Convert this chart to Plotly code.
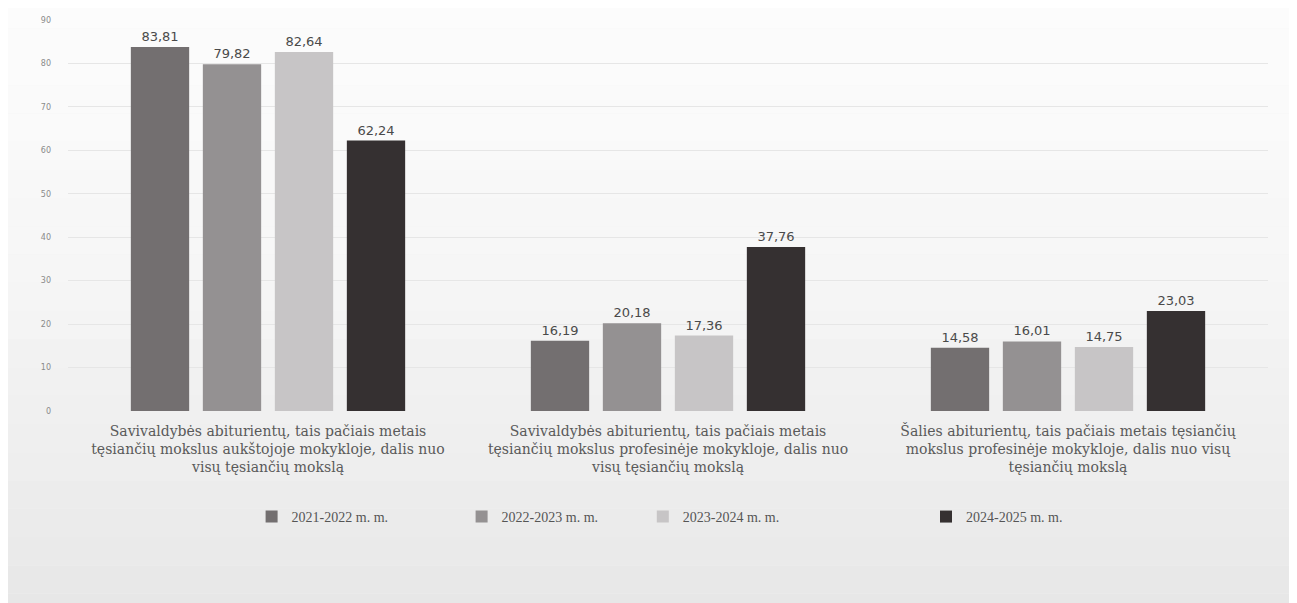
import plotly.graph_objects as go

categories = [
    "Savivaldybės abiturientų, tais pačiais metais<br>tęsiančių mokslus aukštojoje mokykloje, dalis nuo<br>visų tęsiančių mokslą",
    "Savivaldybės abiturientų, tais pačiais metais<br>tęsiančių mokslus profesinėje mokykloje, dalis nuo<br>visų tęsiančių mokslą",
    "Šalies abiturientų, tais pačiais metais tęsiančių<br>mokslus profesinėje mokykloje, dalis nuo visų<br>tęsiančių mokslą",
]
series_names = ["2021-2022 m. m.", "2022-2023 m. m.", "2023-2024 m. m.", "2024-2025 m. m."]
v2021 = [83.81, 16.19, 14.58]
v2022 = [79.82, 20.18, 16.01]
v2023 = [82.64, 17.36, 14.75]
v2024 = [62.24, 37.76, 23.03]
y_ticks = [0, 10, 20, 30, 40, 50, 60, 70, 80, 90]

colors = ["#736f70", "#949192", "#c7c5c6", "#353031"]
values = [v2021, v2022, v2023, v2024]
legend_ids = ["legend", "legend2", "legend3", "legend4"]
legend_x = [0.153, 0.328, 0.479, 0.715]

fig = go.Figure()
for name, vals, col, lid in zip(series_names, values, colors, legend_ids):
    fig.add_trace(go.Bar(
        x=categories, y=vals, name=name, marker_color=col,
        marker_line_width=0, legend=lid,
        text=[f"{v:.2f}".replace(".", ",") for v in vals],
        textposition="outside", cliponaxis=False,
        textfont=dict(family="DejaVu Sans", size=13, color="#4a4a4a"),
    ))

# scanned-paper background approximation (bands)
bands = 36
for i in range(bands):
    t = i / (bands - 1)
    g = int(252 - 45 * (t ** 1.5))
    fig.add_shape(type="rect", xref="paper", yref="paper", layer="below",
                  x0=-0.1, x1=1.1,
                  y0=1.05 - (i + 1) / bands * 2.6, y1=1.05 - i / bands * 2.6,
                  fillcolor=f"rgb({g},{g},{g})", line_width=0)

leg_common = dict(orientation="h", xanchor="left", y=-0.271, yanchor="middle",
                  font=dict(family="Liberation Serif", size=14, color="#555555"),
                  itemwidth=30, bgcolor="rgba(0,0,0,0)")
fig.update_layout(
    width=1297, height=603,
    margin=dict(l=60, r=37, t=8, b=200),
    paper_bgcolor="#f3f3f3",
    plot_bgcolor="rgba(0,0,0,0)",
    barmode="group", bargap=0.28, bargroupgap=0.19,
    showlegend=True,
    legend=dict(x=legend_x[0], **leg_common),
    legend2=dict(x=legend_x[1], **leg_common),
    legend3=dict(x=legend_x[2], **leg_common),
    legend4=dict(x=legend_x[3], **leg_common),
    font=dict(family="Liberation Serif", color="#555555"),
)
fig.update_yaxes(range=[0, 90], tickvals=y_ticks, showgrid=True, gridcolor="#e6e6e6",
                 gridwidth=1, zeroline=False, showline=False,
                 tickfont=dict(family="DejaVu Sans", size=8, color="#8a8a8a"), ticklabelstandoff=16)
fig.update_xaxes(showline=False, tickfont=dict(family="DejaVu Serif", size=14, color="#5a5a5a"),
                 tickangle=0, ticklabelstandoff=10)

fig.write_html("out.html")
